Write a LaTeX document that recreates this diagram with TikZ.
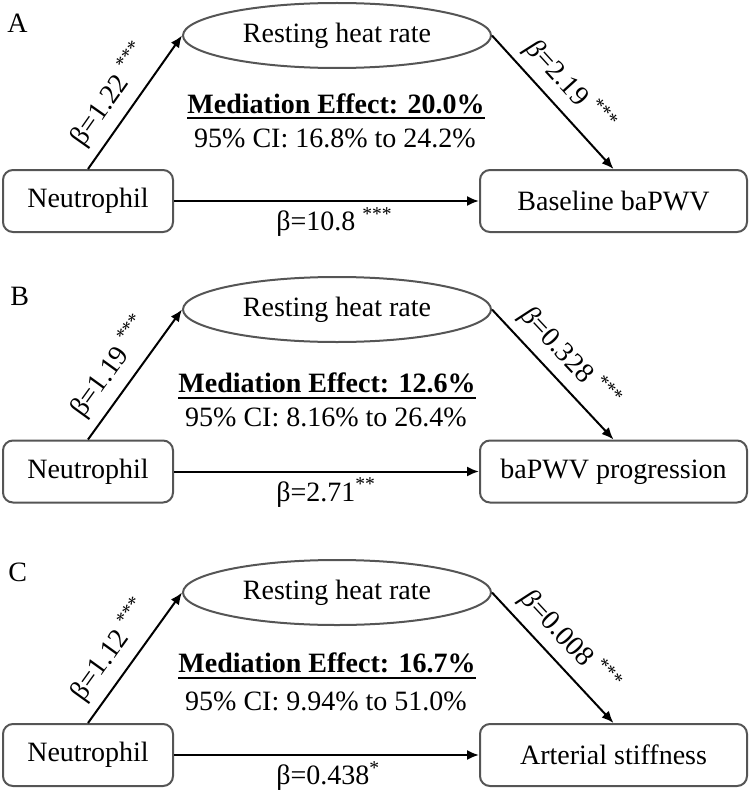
\documentclass[tikz,border=0pt]{standalone}
\usepackage{fontspec}
\setmainfont{Liberation Serif}
\usetikzlibrary{arrows.meta,shapes.geometric}
\definecolor{boxgray}{RGB}{85,85,85}
\begin{document}
\begin{tikzpicture}[x=0.5pt,y=-0.5pt,
  font=\fontsize{14}{17}\selectfont,
  box/.style={draw=boxgray, line width=1pt, rounded corners=5pt, minimum height=31pt, inner sep=0pt},
  leftbox/.style={box, minimum width=85pt},
  rightbox/.style={box, minimum width=133.5pt},
  medbox/.style={draw=boxgray, line width=1pt, ellipse, minimum width=154pt, minimum height=32.5pt, inner sep=0pt},
  arr/.style={-{Latex[length=6pt,width=5pt]}, line width=1pt, black},
  coefL/.style={sloped, pos=0.45, above=4.5pt, inner sep=0pt},
  coefR/.style={sloped, pos=0.5, above=4pt, inner sep=0pt},
  coefH/.style={pos=0.332, anchor=base west, yshift=-14.8pt, inner sep=0pt},
  panel/.style={anchor=base west, inner sep=0pt},
  bold/.style={anchor=base, inner sep=0pt, font=\fontsize{14}{17}\selectfont\bfseries},
  plain/.style={anchor=base, inner sep=0pt},
  uline/.style={line width=1pt, black}
]
\useasboundingbox (0,0) rectangle (750,797);

% ---------- Panel A ----------
\node[panel] (labA) at (7,33) {A};
\node[medbox] (eA) at (337,35.5) {Resting heat rate};
\node[leftbox] (nA) at (88,201) {Neutrophil};
\node[rightbox] (rA) at (613.5,201) {Baseline baPWV};
\draw[arr] (nA.north) -- (eA.west) node[coefL] {β=1.22 \textsuperscript{***}};
\draw[arr] (eA.east) -- (rA.north) node[coefR] {\textit{β}=2.19 \textsuperscript{***}};
\draw[arr] (nA.east) -- (rA.west) node[coefH] {β=10.8 \textsuperscript{***}};
\node[bold] (mA) at (336,113) {Mediation Effect: 20.0\%};
\draw[uline] ([yshift=-2.75pt]mA.base west) -- ([yshift=-2.75pt]mA.base east);
\node[plain] (cA) at (335,148) {95\% CI: 16.8\% to 24.2\%};

% ---------- Panel B ----------
\node[panel] (labB) at (10,305) {B};
\node[medbox] (eB) at (337,309.5) {Resting heat rate};
\node[leftbox] (nB) at (88,471.5) {Neutrophil};
\node[rightbox] (rB) at (613.5,471.5) {baPWV progression};
\draw[arr] (nB.north) -- (eB.west) node[coefL] {β=1.19 \textsuperscript{***}};
\draw[arr] (eB.east) -- (rB.north) node[coefR] {\textit{β}=0.328 \textsuperscript{***}};
\draw[arr] (nB.east) -- (rB.west) node[coefH] {β=2.71\textsuperscript{**}};
\node[bold] (mB) at (327,392) {Mediation Effect: 12.6\%};
\draw[uline] ([yshift=-2.75pt]mB.base west) -- ([yshift=-2.75pt]mB.base east);
\node[plain] (cB) at (326,426.5) {95\% CI: 8.16\% to 26.4\%};

% ---------- Panel C ----------
\node[panel] (labC) at (8,581.5) {C};
\node[medbox] (eC) at (337,592.5) {Resting heat rate};
\node[leftbox] (nC) at (88,755) {Neutrophil};
\node[rightbox] (rC) at (613.5,755) {Arterial stiffness};
\draw[arr] (nC.north) -- (eC.west) node[coefL] {β=1.12 \textsuperscript{***}};
\draw[arr] (eC.east) -- (rC.north) node[coefR] {\textit{β}=0.008 \textsuperscript{***}};
\draw[arr] (nC.east) -- (rC.west) node[coefH] {β=0.438\textsuperscript{*}};
\node[bold] (mC) at (327,672.5) {Mediation Effect: 16.7\%};
\draw[uline] ([yshift=-2.75pt]mC.base west) -- ([yshift=-2.75pt]mC.base east);
\node[plain] (cC) at (326,710) {95\% CI: 9.94\% to 51.0\%};
\end{tikzpicture}
\end{document}
